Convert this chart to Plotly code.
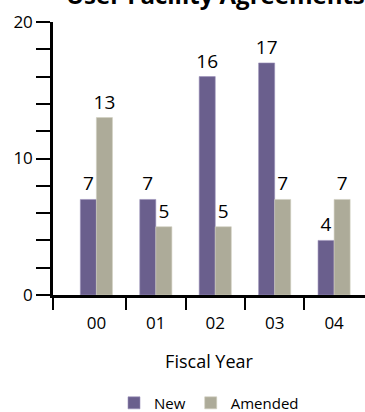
import plotly.graph_objects as go

years = ["00", "01", "02", "03", "04"]
new_vals = [7, 7, 16, 17, 4]
amended_vals = [13, 5, 5, 7, 7]
y_ticks = list(range(0, 21, 2))
y_labels = ["0", "", "", "", "", "10", "", "", "", "", "20"]

pos = list(range(len(years)))
font = "Open Sans"
purple = "#6a5f8d"
grey = "#adab99"

fig = go.Figure()
fig.add_trace(go.Bar(x=pos, y=new_vals, name="New", marker=dict(color=purple, line=dict(color="#9a90b8", width=0.6)),
                     text=[str(v) for v in new_vals], textposition="outside", constraintext="none",
                     textfont=dict(size=19, color="black", family=font), cliponaxis=False))
fig.add_trace(go.Bar(x=pos, y=amended_vals, name="Amended", marker=dict(color=grey, line=dict(color="#d0cec0", width=0.6)),
                     text=[str(v) for v in amended_vals], textposition="outside", constraintext="none",
                     textfont=dict(size=19, color="black", family=font), cliponaxis=False))

xr = [-0.73, 4.52]
fig.update_layout(
    width=365, height=412,
    margin=dict(l=53, r=0, t=22, b=117, autoexpand=False),
    paper_bgcolor="white", plot_bgcolor="white",
    barmode="group", bargap=0.46, bargroupgap=0,
    font=dict(family=font, color="black"),
    title=dict(text="<b>User Facility Agreements</b>", font=dict(size=24, family=font, color="black"),
               x=0.59, xanchor="center", yref="container", y=0.99, yanchor="bottom", pad=dict(b=0)),
    xaxis=dict(range=xr, tickvals=pos, ticktext=years, ticks="outside", ticklen=11, tickcolor="rgba(0,0,0,0)",
               showline=True, linecolor="black", automargin=False,
               linewidth=2.5, showgrid=False, zeroline=False, tickfont=dict(size=17, family=font),
               title=dict(text="Fiscal Year", font=dict(size=18, family=font), standoff=23)),
    xaxis2=dict(range=xr, overlaying="x", anchor="y", side="bottom", tickvals=[-0.73, 0.5, 1.5, 2.5, 3.5],
                ticks="outside", ticklen=14, tickwidth=1.5, tickcolor="black", showticklabels=False,
                showgrid=False, zeroline=False, showline=False, automargin=False),
    yaxis=dict(range=[0, 20], tickvals=y_ticks, ticktext=y_labels, ticks="outside", ticklen=14,
               tickwidth=1.5, tickcolor="black", showline=True, linecolor="black", linewidth=2.5,
               showgrid=False, zeroline=False, tickfont=dict(size=17, family=font), automargin=False),
    legend=dict(orientation="h", x=0.5, xanchor="center", y=-0.396, yanchor="middle",
                font=dict(size=15, family=font), itemwidth=30, traceorder="normal"),
    showlegend=True,
)
fig.add_trace(go.Scatter(x=[None], y=[None], xaxis="x2", showlegend=False, hoverinfo="skip"))

fig.write_html("out.html")
